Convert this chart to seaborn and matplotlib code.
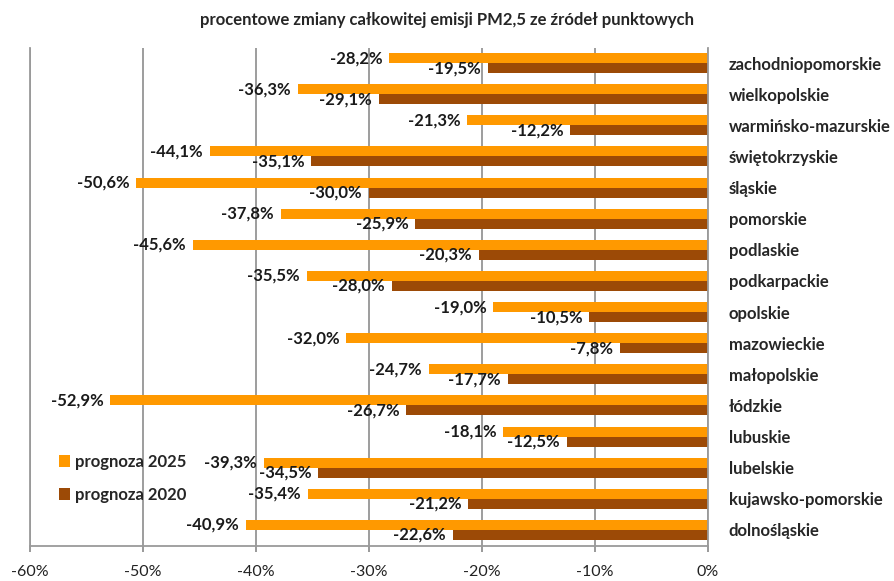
import numpy as np
import pandas as pd
import seaborn as sns
import matplotlib.pyplot as plt
from matplotlib.font_manager import FontProperties

# Data
regions = ["zachodniopomorskie", "wielkopolskie", "warmińsko-mazurskie", "świętokrzyskie",
           "śląskie", "pomorskie", "podlaskie", "podkarpackie", "opolskie", "mazowieckie",
           "małopolskie", "łódzkie", "lubuskie", "lubelskie", "kujawsko-pomorskie", "dolnośląskie"]
prognoza_2025 = [-28.2, -36.3, -21.3, -44.1, -50.6, -37.8, -45.6, -35.5,
                 -19.0, -32.0, -24.7, -52.9, -18.1, -39.3, -35.4, -40.9]
prognoza_2020 = [-19.5, -29.1, -12.2, -35.1, -30.0, -25.9, -20.3, -28.0,
                 -10.5, -7.8, -17.7, -26.7, -12.5, -34.5, -21.2, -22.6]
series_names = ["prognoza 2025", "prognoza 2020"]
x_ticks = [-60, -50, -40, -30, -20, -10, 0]
title = "procentowe zmiany całkowitej emisji PM2,5 ze źródeł punktowych"

df = pd.DataFrame({
    "region": regions * 2,
    "value": prognoza_2025 + prognoza_2020,
    "series": [series_names[0]] * len(regions) + [series_names[1]] * len(regions),
})

sns.set_theme(style="white")
plt.rcParams['font.family'] = ['Lato', 'DejaVu Sans']

fig = plt.figure(figsize=(8.95, 5.81), dpi=100)
ax = fig.add_axes([30 / 895, 1 - 545.5 / 581, (708 - 30) / 895, 498 / 581])

palette = {"prognoza 2025": "#FF9900", "prognoza 2020": "#9C4A06"}
sns.barplot(data=df, y="region", x="value", hue="series", hue_order=series_names,
            order=regions, palette=palette, width=0.64, orient="h",
            saturation=1, linewidth=0, ax=ax)

# value labels with comma as decimal separator
for cont in ax.containers:
    labels = [f"{v:.1f}%".replace(".", ",") for v in cont.datavalues]
    ax.bar_label(cont, labels=labels, padding=5, fontsize=12, fontweight="bold", color="#1a1a1a")

ax.set_xlim(-60, 0)
ax.set_ylim(15.5, -0.5)
ax.set_xticks(x_ticks)
ax.set_xticklabels([f"{t}%" for t in x_ticks])
ax.xaxis.grid(True, color="#8c8c8c", linewidth=1.2)
ax.set_axisbelow(True)
ax.set_xlabel("")
ax.set_ylabel("")

ax.yaxis.tick_right()
ax.tick_params(axis="y", length=0, pad=15, labelsize=12)
for lab in ax.get_yticklabels():
    lab.set_fontweight("bold")
ax.tick_params(axis="x", length=4, color="#8c8c8c", pad=10, labelsize=11.5, labelcolor="#222222", bottom=True)

for side in ["left", "bottom", "right"]:
    ax.spines[side].set_color("#9a9a9a")
    ax.spines[side].set_linewidth(1.3)
ax.spines["top"].set_visible(False)

leg_font = FontProperties(family=["Lato", "DejaVu Sans"], weight="bold", size=12)
ax.legend(frameon=False, loc="center left", bbox_to_anchor=(0.02, 0.135),
          handlelength=0.7, handleheight=0.7, handletextpad=0.3, labelspacing=1.0,
          prop=leg_font)

fig.text(0.5, 1 - 20 / 581, title, ha="center", va="center", fontsize=12, fontweight="bold")

fig.savefig("out.png", dpi=100)
